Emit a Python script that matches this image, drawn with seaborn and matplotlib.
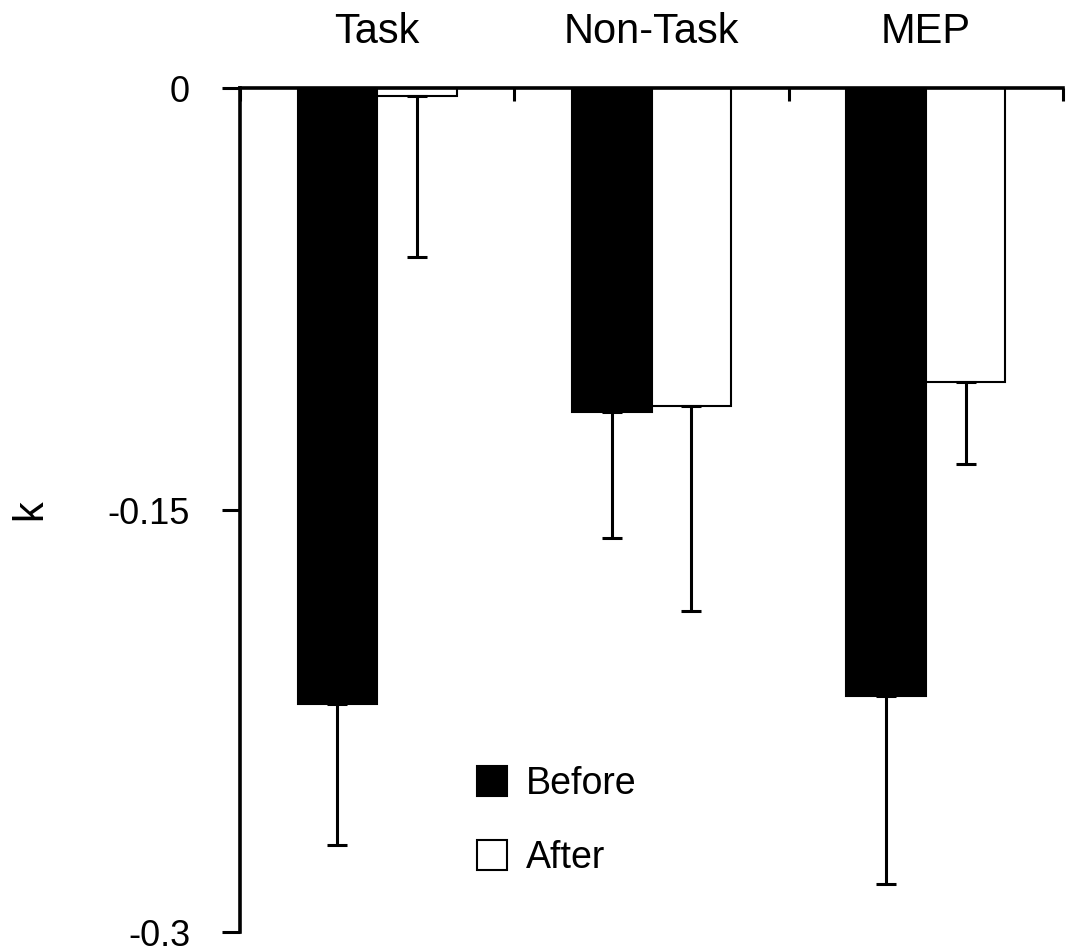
import pandas as pd
import numpy as np
import matplotlib
matplotlib.use("Agg")
import matplotlib.pyplot as plt
import seaborn as sns

# Dữ liệu
groups = ["Task", "Non-Task", "MEP"]
phases = ["Before", "After"]
before_k = [-0.219, -0.115, -0.216]
after_k = [-0.003, -0.113, -0.1045]
before_err = [0.050, 0.045, 0.067]
after_err = [0.057, 0.073, 0.029]

sns.set_style("white")
plt.rcParams['font.family'] = ['Liberation Sans', 'DejaVu Sans']
plt.rcParams.update({"text.color": "black", "axes.labelcolor": "black",
                     "xtick.color": "black", "ytick.color": "black"})

df = pd.DataFrame({
    "group": groups * 2,
    "phase": [phases[0]] * 3 + [phases[1]] * 3,
    "k": before_k + after_k,
    "err": before_err + after_err,
})

fig = plt.figure(figsize=(10.71, 9.52), dpi=100)
fig.subplots_adjust(left=240/1071, right=1063/1071, top=1-88/952, bottom=1-932/952)
ax = fig.add_subplot(111)

sns.barplot(data=df, x="group", y="k", hue="phase", order=groups, hue_order=phases,
            palette={"Before": "black", "After": "white"}, width=0.58,
            edgecolor="black", linewidth=1.5, errorbar=None, ax=ax)

# Thanh sai số một phía (chỉ đi xuống)
for cont, ph in zip(ax.containers, phases):
    errs = df[df["phase"] == ph].set_index("group").loc[groups, "err"].values
    for bar, e in zip(cont, errs):
        xc = bar.get_x() + bar.get_width() / 2
        yv = bar.get_y() + bar.get_height()
        ax.errorbar(xc, yv, yerr=[[e], [0]], fmt="none", ecolor="black",
                    elinewidth=2.2, capsize=7, capthick=2.2, zorder=1)

ax.set_ylim(-0.3, 0)
ax.set_xlim(-0.5, 2.5)
ax.set_yticks([0, -0.15, -0.3])
ax.set_yticklabels(["0", "-0.15", "-0.3"])
ax.tick_params(axis="y", direction="out", length=13, width=2.2, pad=23, labelsize=26, left=True)

ax.xaxis.tick_top()
ax.set_xticks([0, 1, 2])
ax.set_xticklabels(groups)
ax.tick_params(axis="x", which="major", length=0, pad=26, labelsize=30)
ax.set_xticks([-0.5, 0.5, 1.5, 2.5], minor=True)
ax.tick_params(axis="x", which="minor", direction="in", length=9, width=2.2, top=True, bottom=False)
ax.set_xlabel("")

ax.set_ylabel("k", fontsize=30)
ax.yaxis.set_label_coords(-0.23, 0.5)

for s in ["right", "bottom"]:
    ax.spines[s].set_visible(False)
for s in ["left", "top"]:
    ax.spines[s].set_linewidth(2.6)
    ax.spines[s].set_color("black")

handles, labels = ax.get_legend_handles_labels()
ax.legend(handles, labels, loc="center left", bbox_to_anchor=((477-240)/823, (932-821)/844),
          frameon=False, fontsize=27, borderpad=0, borderaxespad=0,
          handlelength=0.8, handleheight=0.85, handletextpad=0.5, labelspacing=1.0)

fig.savefig("out.png", dpi=100)
